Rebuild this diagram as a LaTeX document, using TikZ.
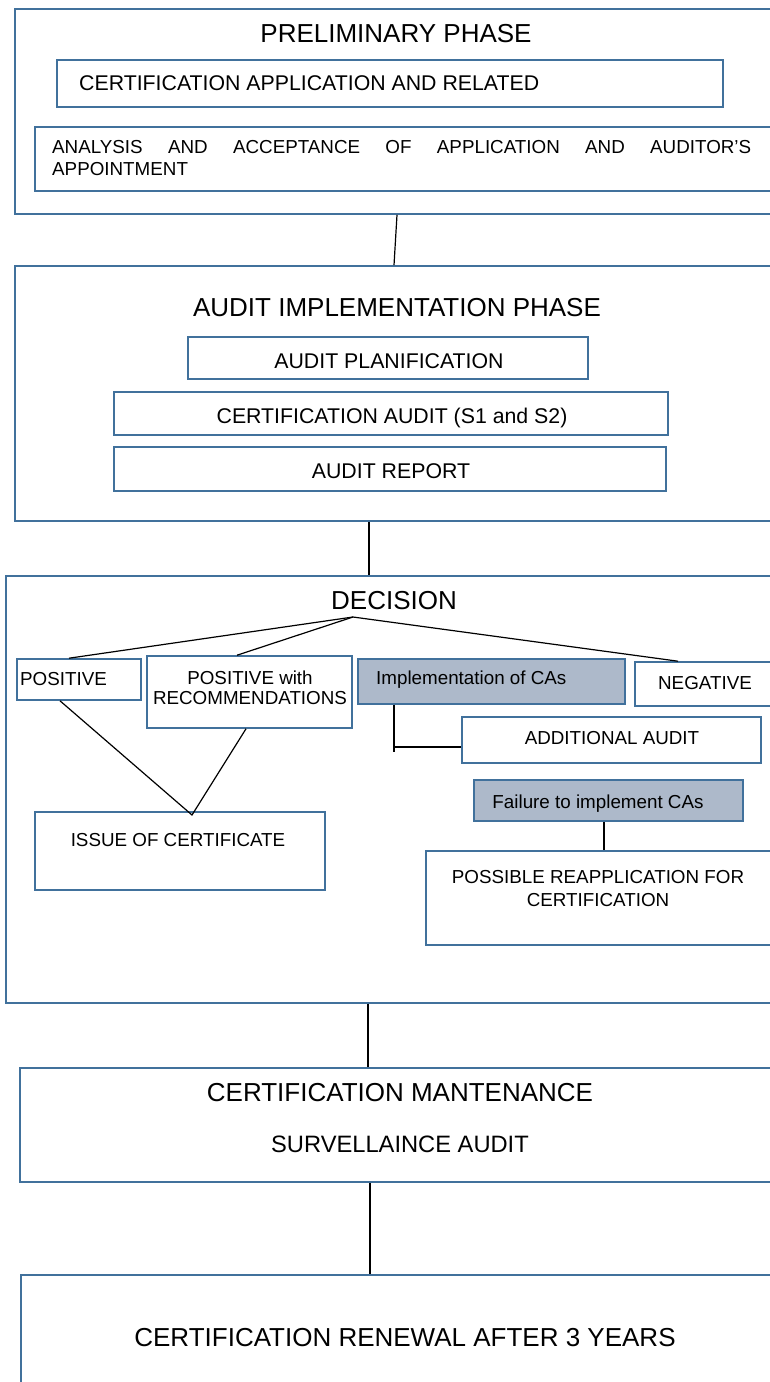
\documentclass[tikz,border=0pt]{standalone}
\usepackage{fontspec}
\setmainfont{Liberation Sans}
\usetikzlibrary{fit}

\definecolor{framecol}{HTML}{41719C}
\definecolor{cafill}{HTML}{ADB9CA}
\tikzset{
  frame/.style={draw=framecol,line width=1.6pt,inner sep=0pt},
  shaded/.style={frame,fill=cafill},
  link/.style={draw=black,line width=1.2pt},
  bigtxt/.style={inner sep=0pt,font=\fontsize{26}{30}\selectfont},
  midtxt/.style={inner sep=0pt,font=\fontsize{21.3}{25}\selectfont},
  smalltxt/.style={inner sep=0pt,font=\fontsize{18.8}{22}\selectfont},
}

\begin{document}
\begin{tikzpicture}[x=1pt,y=-1pt]
\useasboundingbox (0,0) rectangle (770,1382);
\clip (0,0) rectangle (770,1382);

% phase frames
\node[frame,fit={(15,9) (785,214)}] (prel) {};
\node[frame,fit={(15,266) (785,521)}] (audit) {};
\node[frame,fit={(6,576) (785,1003)}] (dec) {};
\node[frame,fit={(20,1068) (785,1182)}] (maint) {};
\node[frame,fit={(21,1275) (785,1400)}] (renew) {};

% inner boxes
\node[frame,fit={(57,60) (723,107)}] (appl) {};
\node[frame,fit={(35,127) (785,191)}] (anal) {};
\node[frame,fit={(188,337) (588,379)}] (plan) {};
\node[frame,fit={(114,392) (668,435)}] (caudit) {};
\node[frame,fit={(114,447) (666,491)}] (report) {};
\node[frame,fit={(17,659) (141,700)}] (posi) {};
\node[frame,fit={(147,656) (352,728)}] (posrec) {};
\node[shaded,fit={(358,659) (625,704)}] (impl) {};
\node[frame,fit={(635,662) (785,706)}] (neg) {};
\node[frame,fit={(462,717) (761,763)}] (addl) {};
\node[frame,fit={(35,812) (325,890)}] (issue) {};
\node[shaded,fit={(474,780) (743,821)}] (fail) {};
\node[frame,fit={(426,851) (785,945)}] (poss) {};

% connectors
\draw[link] (prel.south -| 397,0) -- (audit.north -| 394,0);
\draw[link] (audit.south -| 369,0) -- (dec.north -| 369,0);
\coordinate (apex) at (353,617);
\draw[link] (posi.north -| 69,0) -- (apex) -- (neg.north -| 678,0);
\draw[link] (apex) -- (posrec.north -| 237,0);
\coordinate (meet) at (192,815);
\draw[link] (posi.south -| 60,0) -- (meet) -- (posrec.south -| 246,0);
\coordinate (elbow) at (394,747);
\draw[link] (impl.south -| elbow) -- (elbow) -- ++(0,5);
\draw[link] (elbow) -- (addl.west |- elbow);
\draw[link] (fail.south -| 604,0) -- (poss.north -| 604,0);
\draw[link] (dec.south -| 368,0) -- (maint.north -| 368,0);
\draw[link] (maint.south -| 370,0) -- (renew.north -| 370,0);

% texts
\node[bigtxt,anchor=base] (prelt) at (396,42) {PRELIMINARY PHASE};
\node[midtxt,anchor=base west] (applt) at (79,90.6) {CERTIFICATION APPLICATION AND RELATED};
\node[smalltxt,anchor=north west,align=left] (analt) at (52,140.3)
  {\makebox[699pt][s]{ANALYSIS AND ACCEPTANCE OF APPLICATION AND AUDITOR’S}\\APPOINTMENT};
\node[bigtxt,anchor=base] (auditt) at (397,316.3) {AUDIT IMPLEMENTATION PHASE};
\node[midtxt,anchor=base] (plant) at (389,368.6) {AUDIT PLANIFICATION};
\node[midtxt,anchor=base] (caudt) at (392,423.6) {CERTIFICATION AUDIT (S1 and S2)};
\node[midtxt,anchor=base] (reportt) at (391,478.6) {AUDIT REPORT};
\node[bigtxt,anchor=base] (dect) at (394,609.3) {DECISION};
\node[smalltxt,anchor=base west] (posit) at (20,685.7) {POSITIVE};
\node[smalltxt,font=\fontsize{18.8}{20}\selectfont,anchor=north,align=center] (posrect) at (250,670.3)
  {POSITIVE with\\RECOMMENDATIONS};
\node[smalltxt,anchor=base west] (implt) at (376,684.7) {Implementation of CAs};
\node[smalltxt,anchor=base] (negt) at (705,689.7) {NEGATIVE};
\node[smalltxt,anchor=base] (addlt) at (612,744.7) {ADDITIONAL AUDIT};
\node[smalltxt,anchor=base] (issuet) at (178,846.7) {ISSUE OF CERTIFICATE};
\node[smalltxt,anchor=base] (failt) at (598,808.7) {Failure to implement CAs};
\node[smalltxt,font=\fontsize{18.8}{23}\selectfont,anchor=north,align=center] (posst) at (598,870.3)
  {POSSIBLE REAPPLICATION FOR\\CERTIFICATION};
\node[bigtxt,anchor=base] (maintt) at (400,1101.3) {CERTIFICATION MANTENANCE};
\node[inner sep=0pt,font=\fontsize{23.7}{28}\selectfont,anchor=base] (survt) at (400,1152.5) {SURVELLAINCE AUDIT};
\node[bigtxt,anchor=base] (renewt) at (405,1346.3) {CERTIFICATION RENEWAL AFTER 3 YEARS};
\end{tikzpicture}
\end{document}
